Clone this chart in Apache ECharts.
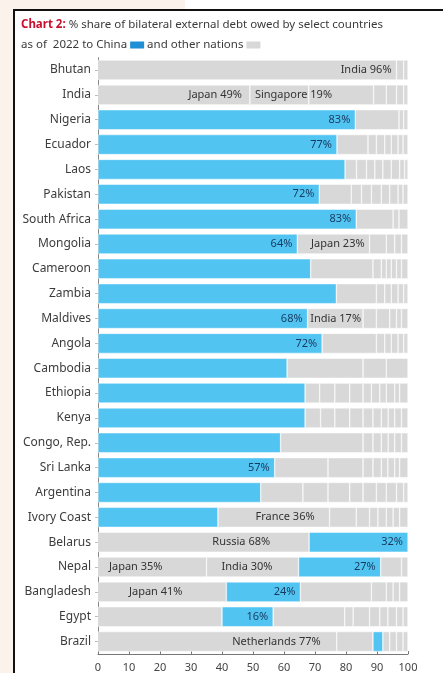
<!DOCTYPE html>
<html>
<head>
<meta charset="utf-8">
<script src="https://cdn.jsdelivr.net/npm/echarts@6/dist/echarts.min.js"></script>
<style>
html,body{margin:0;padding:0;background:#fff;}
#chart{width:443px;height:673px;}
</style>
</head>
<body>
<div id="chart"></div>
<script>
// ---- data ----
const countries = ['Bhutan','India','Nigeria','Ecuador','Laos','Pakistan','South Africa','Mongolia','Cameroon','Zambia','Maldives','Angola','Cambodia','Ethiopia','Kenya','Congo, Rep.','Sri Lanka','Argentina','Ivory Coast','Belarus','Nepal','Bangladesh','Egypt','Brazil'];

// creditor shares in stacking order (left to right), %
const segments = [
  [96.3, 2.3, 1.4],
  [49, 19, 20.9, 4.1, 3.3, 2.3, 1.4],
  [83, 14.1, 1.5, 1.4],
  [77.1, 10, 2.7, 2.7, 2.1, 2.2, 1.6, 1.6],
  [79.7, 3.7, 3.2, 2.7, 2.6, 2.7, 2.7, 1.6, 1.1],
  [71.4, 10.3, 3.3, 3.2, 3.2, 2.7, 2.7, 1.6, 1.6],
  [83.3, 11.9, 1.9, 2.9],
  [64.3, 23.3, 5.4, 2.7, 2.2, 2.1],
  [68.6, 20.1, 2.7, 1.6, 1.6, 1.7, 1.6, 2.1],
  [76.9, 12.9, 2.7, 2.1, 2.2, 1.8, 1.4],
  [67.6, 17.9, 4.3, 4.3, 2.2, 1.6, 2.1],
  [72.3, 17.5, 2.7, 2.1, 2.2, 1.8, 1.4],
  [61, 24.5, 7.5, 7],
  [66.8, 4.7, 4.9, 4.8, 4.3, 2.7, 2.7, 2.1, 2.7, 1.6, 2.7],
  [66.8, 5, 4.6, 4.8, 4.3, 3.2, 2.7, 2.2, 2.1, 2.2, 2.1],
  [58.9, 26.6, 3.2, 2.7, 2.2, 2.1, 2.2, 2.1],
  [57, 17.2, 11.3, 3.2, 2.7, 2.1, 2.2, 1.6, 2.7],
  [52.5, 13.6, 8.1, 7, 4.3, 4.3, 3.2, 3.3, 2.3, 1.4],
  [38.7, 36, 8.6, 4.3, 2.7, 2.7, 2.2, 2.1, 2.7],
  [68.1, 31.9],
  [35, 29.7, 26.5, 6.7, 2.1],
  [41.4, 23.9, 22.9, 4.8, 2.2, 2.1, 2.7],
  [40, 16.5, 23.1, 2.7, 5.3, 3.3, 2.6, 2.8, 2.1, 1.6],
  [77, 11.7, 3.2, 2.2, 2.2, 2.1, 1.6]
];

// index of the China segment in each row (-1 = none)
const chinaIndex = [-1,-1,0,0,0,0,0,0,0,0,0,0,0,0,0,0,0,0,0,1,2,1,1,2];

// segment labels: [segment index, text]
const segmentLabels = [
  [[0,'India 96%']],
  [[0,'Japan 49%'],[1,'Singapore 19%']],
  [[0,'83%']],
  [[0,'77%']],
  [],
  [[0,'72%']],
  [[0,'83%']],
  [[0,'64%'],[1,'Japan 23%']],
  [],
  [],
  [[0,'68%'],[1,'India 17%']],
  [[0,'72%']],
  [],
  [],
  [],
  [],
  [[0,'57%']],
  [],
  [[1,'France 36%']],
  [[0,'Russia 68%'],[1,'32%']],
  [[0,'Japan 35%'],[1,'India 30%'],[2,'27%']],
  [[0,'Japan 41%'],[1,'24%']],
  [[1,'16%']],
  [[0,'Netherlands 77%']]
];

const xTicks = [0,10,20,30,40,50,60,70,80,90,100];

// ---- styling ----
const BLUE = '#52c4f2';
const GRAY = '#d8d8d8';
const FONT = '"Noto Sans", "Open Sans", sans-serif';
// label placement overrides keyed "row-seg": [position, distance]
const placement = {
  '1-0':['insideRight',8], '1-1':['insideLeft',5],
  '10-1':['insideRight',2],
  '18-1':['insideRight',15],
  '19-0':['insideRight',39],
  '20-0':['insideLeft',11], '20-1':['insideLeft',15],
  '21-0':['insideLeft',31],
  '23-0':['insideRight',16]
};

const maxSegs = Math.max(...segments.map(s => s.length));
const series = [];
for (let s = 0; s < maxSegs; s++) {
  series.push({
    type: 'bar',
    stack: 'total',
    barWidth: 20,
    silent: true,
    itemStyle: { borderColor: '#ffffff', borderWidth: 0.5 },
    label: { show: false },
    data: countries.map((c, i) => {
      const v = segments[i][s];
      if (v === undefined) return '-';
      const isChina = chinaIndex[i] === s;
      const item = { value: v, itemStyle: { color: isChina ? BLUE : GRAY } };
      const lab = segmentLabels[i].find(l => l[0] === s);
      if (lab) {
        const p = placement[i + '-' + s] || ['insideRight', 5];
        item.label = {
          show: true,
          formatter: lab[1],
          position: p[0],
          distance: p[1],
          fontFamily: FONT,
          fontSize: 11,
          color: isChina ? '#173a5e' : '#333333'
        };
      }
      return item;
    })
  });
}

const chart = echarts.init(document.getElementById('chart'), null, { renderer: 'canvas' });
chart.setOption({
  animation: false,
  backgroundColor: '#ffffff',
  title: {
    left: 21,
    top: 15,
    padding: 0,
    text: '{r|Chart 2:} % share of bilateral external debt owed by select countries\nas of  2022 to China {b|} and other nations {g|}',
    textStyle: {
      fontFamily: FONT,
      fontSize: 11.5,
      fontWeight: 'normal',
      color: '#3a3a3a',
      lineHeight: 20,
      rich: {
        r: { color: '#c8102e', fontWeight: 'bold', fontFamily: FONT, fontSize: 11.5 },
        b: { backgroundColor: '#1f8fd6', width: 14, height: 7 },
        g: { backgroundColor: '#d8d8d8', width: 14, height: 7 }
      }
    }
  },
  graphic: [
    { type: 'rect', shape: { x: 0, y: 0, width: 13, height: 673 }, style: { fill: '#fcf2ec' }, silent: true },
    { type: 'rect', shape: { x: 0, y: 0, width: 185, height: 9 }, style: { fill: '#fcf2ec' }, silent: true },
    { type: 'rect', shape: { x: 13, y: 9, width: 2, height: 664 }, style: { fill: '#111' }, silent: true },
    { type: 'rect', shape: { x: 13, y: 9, width: 430, height: 2 }, style: { fill: '#111' }, silent: true }
  ],
  grid: { left: 98, right: 35, top: 57.6, bottom: 18.8, containLabel: false },
  xAxis: {
    type: 'value',
    min: xTicks[0],
    max: xTicks[xTicks.length - 1],
    interval: xTicks[1] - xTicks[0],
    splitLine: { show: false },
    axisLine: { show: true, lineStyle: { color: '#777', width: 1 } },
    axisTick: { show: true, inside: true, length: 3, lineStyle: { color: '#777' } },
    axisLabel: { fontFamily: FONT, fontSize: 11, color: '#444', margin: 8 }
  },
  yAxis: {
    type: 'category',
    data: countries,
    inverse: true,
    axisLine: { show: true, lineStyle: { color: '#888', width: 1 } },
    axisTick: { show: true, length: 3, alignWithLabel: true, lineStyle: { color: '#bbb' } },
    axisLabel: { fontFamily: FONT, fontSize: 12, color: '#3c3c3c', margin: 7 }
  },
  series: series
});
</script>
</body>
</html>
